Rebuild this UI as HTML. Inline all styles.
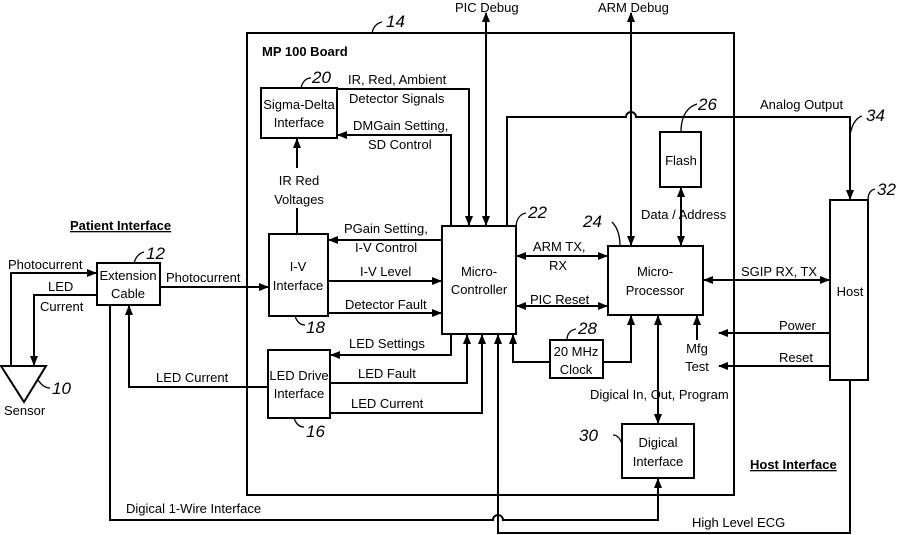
<!DOCTYPE html><html><head><style>body{margin:0;background:#fff}svg{display:block}text{font-family:"Liberation Sans",sans-serif;font-size:13px;fill:#000}.n{font-style:italic;font-size:17px}.b{font-weight:bold}</style></head><body>
<svg width="901" height="535" viewBox="0 0 901 535" xmlns="http://www.w3.org/2000/svg">
<defs><marker id="a" markerWidth="10" markerHeight="10" refX="9" refY="5" orient="auto-start-reverse" markerUnits="userSpaceOnUse"><path d="M0,1 L10,5 L0,9 Z" fill="#000"/></marker></defs>
<g fill="none" stroke="#000" stroke-width="2">
<rect x="247" y="33" width="487" height="462"/>
<rect x="261" y="88" width="76" height="50"/>
<rect x="269" y="234" width="59" height="82"/>
<rect x="268" y="350" width="62" height="68"/>
<rect x="97" y="263" width="63" height="42"/>
<rect x="442" y="226" width="74" height="108"/>
<rect x="608" y="246" width="95" height="69"/>
<rect x="550" y="340" width="53" height="38"/>
<rect x="622" y="424" width="72" height="54"/>
<rect x="660" y="132" width="41" height="55"/>
<rect x="830" y="200" width="38" height="180"/>
<path d="M1,366 L46,366 L24,402 Z"/>
<path d="M11,366 V273 H96" marker-end="url(#a)"/>
<path d="M97,295 H34 V365" marker-end="url(#a)"/>
<path d="M160,287 H268" marker-end="url(#a)"/>
<path d="M268,387 H129 V306" marker-end="url(#a)"/>
<path d="M110,305 V520 H493 A5,5 0 0 1 503,520 H658 V479" marker-end="url(#a)"/>
<path d="M850,380 V533 H498 V335" marker-end="url(#a)"/>
<path d="M442,240 H329" marker-end="url(#a)"/>
<path d="M328,281 H441" marker-end="url(#a)"/>
<path d="M328,313 H441" marker-end="url(#a)"/>
<path d="M451,334 V355 H331" marker-end="url(#a)"/>
<path d="M330,383 H467 V335" marker-end="url(#a)"/>
<path d="M330,413 H482 V335" marker-end="url(#a)"/>
<path d="M550,362 H513 V335" marker-end="url(#a)"/>
<path d="M603,362 H631 V316" marker-end="url(#a)"/>
<path d="M337,89 H469 V225" marker-end="url(#a)"/>
<path d="M451,226 V135 H338" marker-end="url(#a)"/>
<path d="M297,234 V208 M297,168 V139" marker-end="url(#a)"/>
<path d="M486,13 V225" marker-start="url(#a)" marker-end="url(#a)"/>
<path d="M631,13 V245" marker-start="url(#a)" marker-end="url(#a)"/>
<path d="M681,188 V245" marker-start="url(#a)" marker-end="url(#a)"/>
<path d="M517,256 H607" marker-start="url(#a)" marker-end="url(#a)"/>
<path d="M517,306 H607" marker-start="url(#a)" marker-end="url(#a)"/>
<path d="M704,280 H829" marker-start="url(#a)" marker-end="url(#a)"/>
<path d="M658,316 V423" marker-start="url(#a)" marker-end="url(#a)"/>
<path d="M697,340 V316" marker-end="url(#a)"/>
<path d="M830,333 H719" marker-end="url(#a)"/>
<path d="M830,366 H719" marker-end="url(#a)"/>
<path d="M507,226 V117 H626 A5,5 0 0 1 636,117 H850 V199" marker-end="url(#a)"/>
</g>
<g fill="none" stroke="#000" stroke-width="1.3">
<path d="M372,33 C374,25 378,23 382,22"/><path d="M134,263 C136,256 140,253 144,252"/><path d="M38,380 C42,386 46,388 50,388"/>
<path d="M301,88 C303,80 307,78 311,78"/><path d="M295,316 C297,322 300,325 305,325"/><path d="M294,418 C296,424 299,427 304,427"/>
<path d="M516,226 C517,217 521,214 526,213"/><path d="M620,246 C620,236 618,228 612,222"/><path d="M681,132 C681,115 688,107 697,104"/>
<path d="M567,340 C567,333 571,330 576,329"/><path d="M622,444 C620,438 617,435 613,435"/><path d="M868,200 C868,193 871,190 875,189"/><path d="M850,135 C852,124 856,118 862,116"/>
</g>
<text x="386" y="27" class="n">14</text><text x="146" y="259" class="n">12</text><text x="52" y="394" class="n">10</text>
<text x="312" y="83" class="n">20</text><text x="306" y="333" class="n">18</text><text x="306" y="437" class="n">16</text>
<text x="528" y="218" class="n">22</text><text x="583" y="227" class="n">24</text><text x="698" y="110" class="n">26</text>
<text x="578" y="334" class="n">28</text><text x="579" y="441" class="n">30</text><text x="877" y="195" class="n">32</text><text x="866" y="121" class="n">34</text>
<g font-size="13">
<text x="262" y="56" class="b">MP 100 Board</text>
<text x="70" y="230" class="b" text-decoration="underline">Patient Interface</text>
<text x="750" y="469" class="b" text-decoration="underline">Host Interface</text>
<text x="299" y="109" text-anchor="middle">Sigma-Delta</text><text x="299" y="127" text-anchor="middle">Interface</text>
<text x="298" y="271" text-anchor="middle">I-V</text><text x="298" y="290" text-anchor="middle">Interface</text>
<text x="299" y="380" text-anchor="middle">LED Drive</text><text x="299" y="398" text-anchor="middle">Interface</text>
<text x="128" y="280" text-anchor="middle">Extension</text><text x="128" y="298" text-anchor="middle">Cable</text>
<text x="479" y="276" text-anchor="middle">Micro-</text><text x="479" y="294" text-anchor="middle">Controller</text>
<text x="655" y="276" text-anchor="middle">Micro-</text><text x="655" y="295" text-anchor="middle">Processor</text>
<text x="576" y="356" text-anchor="middle">20 MHz</text><text x="576" y="374" text-anchor="middle">Clock</text>
<text x="658" y="447" text-anchor="middle">Digical</text><text x="658" y="466" text-anchor="middle">Interface</text>
<text x="681" y="165" text-anchor="middle">Flash</text><text x="850" y="296" text-anchor="middle">Host</text>
<text x="8" y="269">Photocurrent</text><text x="48" y="291">LED</text><text x="40" y="311">Current</text>
<text x="4" y="415">Sensor</text><text x="166" y="282">Photocurrent</text><text x="156" y="382">LED Current</text>
<text x="126" y="513">Digical 1-Wire Interface</text><text x="692" y="527">High Level ECG</text>
<text x="348" y="84">IR, Red, Ambient</text><text x="349" y="103">Detector Signals</text>
<text x="353" y="130">DMGain Setting,</text><text x="368" y="149">SD Control</text>
<text x="299" y="185" text-anchor="middle">IR Red</text><text x="299" y="204" text-anchor="middle">Voltages</text>
<text x="344" y="233">PGain Setting,</text><text x="355" y="252">I-V Control</text>
<text x="360" y="276">I-V Level</text><text x="345" y="309">Detector Fault</text>
<text x="349" y="348">LED Settings</text><text x="358" y="378">LED Fault</text><text x="351" y="408">LED Current</text>
<text x="455" y="12">PIC Debug</text><text x="598" y="12">ARM Debug</text><text x="760" y="109">Analog Output</text>
<text x="641" y="219">Data / Address</text><text x="533" y="251">ARM TX,</text><text x="549" y="270">RX</text>
<text x="530" y="304">PIC Reset</text><text x="741" y="276">SGIP RX, TX</text>
<text x="779" y="330">Power</text><text x="779" y="362">Reset</text>
<text x="697" y="353" text-anchor="middle">Mfg</text><text x="697" y="371" text-anchor="middle">Test</text>
<text x="590" y="399">Digical In, Out, Program</text>
</g>
</svg></body></html>
